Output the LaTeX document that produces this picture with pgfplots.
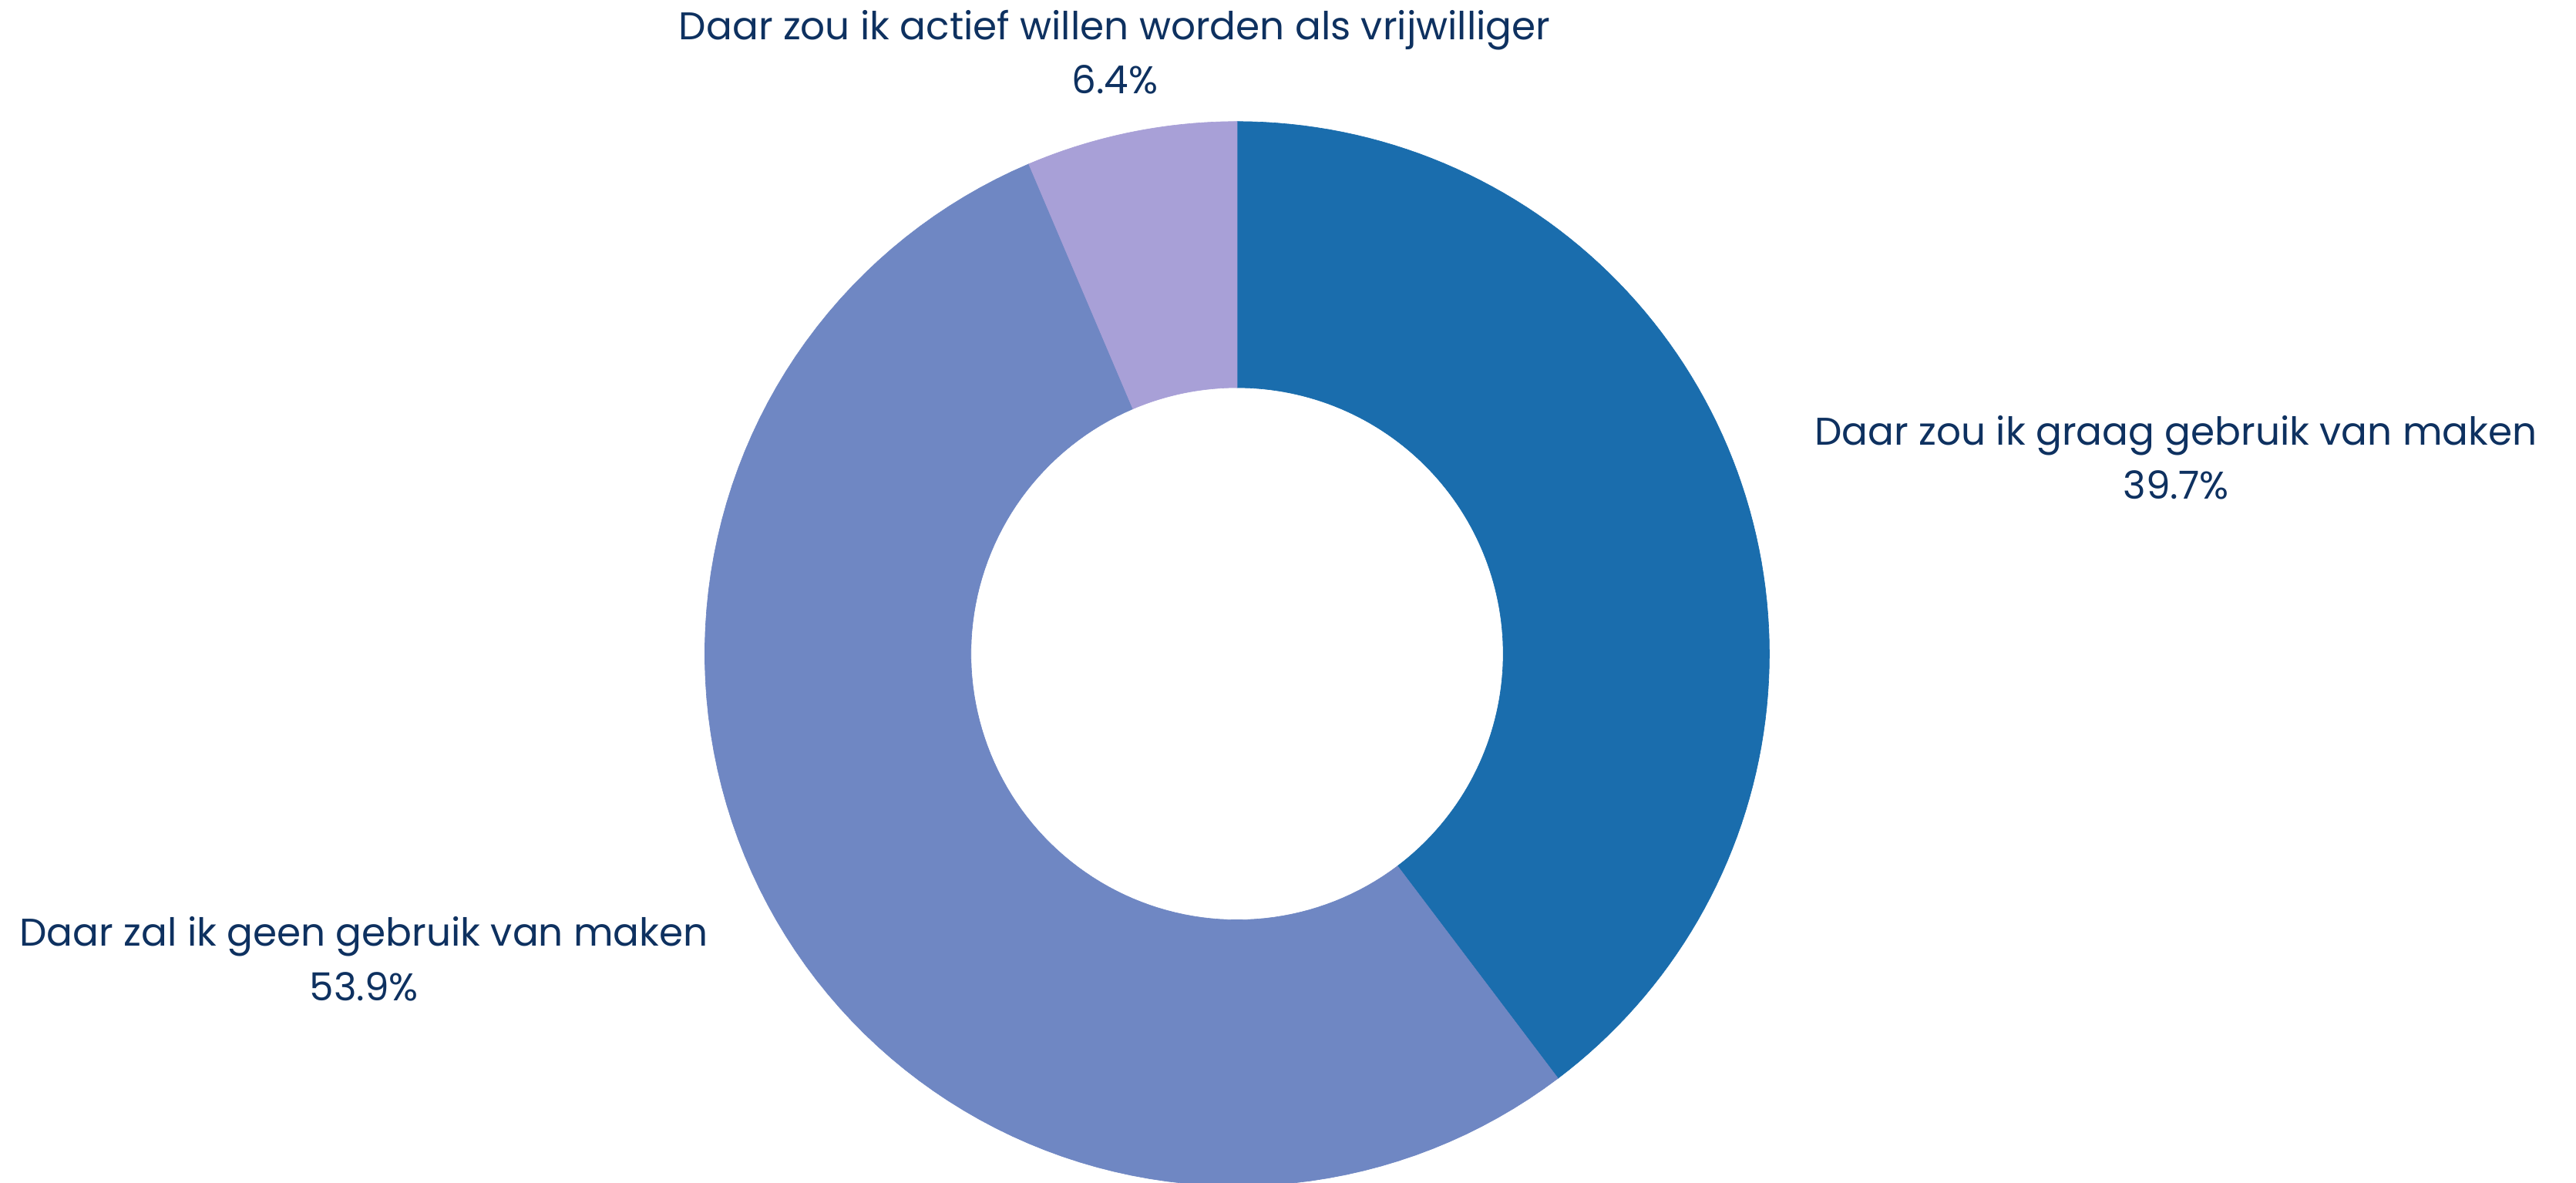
\documentclass[border=0pt]{standalone}
\usepackage{pgfplots}
\pgfplotsset{compat=1.18}
\usepackage{fontspec}
\setmainfont{Poppins}
\definecolor{cA}{HTML}{1A6DAD}
\definecolor{cB}{HTML}{6F87C3}
\definecolor{cC}{HTML}{A8A0D7}
\definecolor{txt}{HTML}{0E3160}
% values (percent)
\def\vA{39.7}
\def\vB{53.9}
\def\vC{6.4}
\begin{document}
\begin{tikzpicture}
\begin{axis}[
  scale only axis, width=1568pt, height=720pt,
  xmin=0, xmax=1568, ymin=-720, ymax=0,
  hide axis, clip=true,
]
\pgfmathsetmacro{\aA}{90}
\pgfmathsetmacro{\bA}{90-3.6*\vA}
\pgfmathsetmacro{\bB}{\bA-3.6*\vB}
\pgfmathsetmacro{\bC}{\bB-3.6*\vC}
\newcommand{\slice}[3]{%
  \addplot[fill=#3, draw=#3, line width=0.3pt, samples at={0,...,201}, variable=\t]
   ({753+(\t<100.5 ? 324 : 162)*cos(\t<100.5 ? #1+(#2-#1)*\t/100 : #2+(#1-#2)*(\t-101)/100)},
    {-398+(\t<100.5 ? 324 : 162)*sin(\t<100.5 ? #1+(#2-#1)*\t/100 : #2+(#1-#2)*(\t-101)/100)}) -- cycle;}
\slice{\aA}{\bA}{cA}
\slice{\bA}{\bB}{cB}
\slice{\bB}{\bC}{cC}
\tikzset{lbl/.style={txt, font=\fontsize{23.5}{28}\selectfont, anchor=base, inner sep=0pt}}
\node[lbl] at (axis cs:678.5,-24) {Daar zou ik actief willen worden als vrijwilliger};
\node[lbl] at (axis cs:678.5,-57) {6.4\%};
\node[lbl] at (axis cs:1324.5,-271) {Daar zou ik graag gebruik van maken};
\node[lbl] at (axis cs:1324.5,-304) {39.7\%};
\node[lbl] at (axis cs:221.5,-576) {Daar zal ik geen gebruik van maken};
\node[lbl] at (axis cs:221.5,-609) {53.9\%};
\end{axis}
\pgfresetboundingbox
\path[use as bounding box] (current axis.south west) rectangle (current axis.north east);
\end{tikzpicture}
\end{document}
